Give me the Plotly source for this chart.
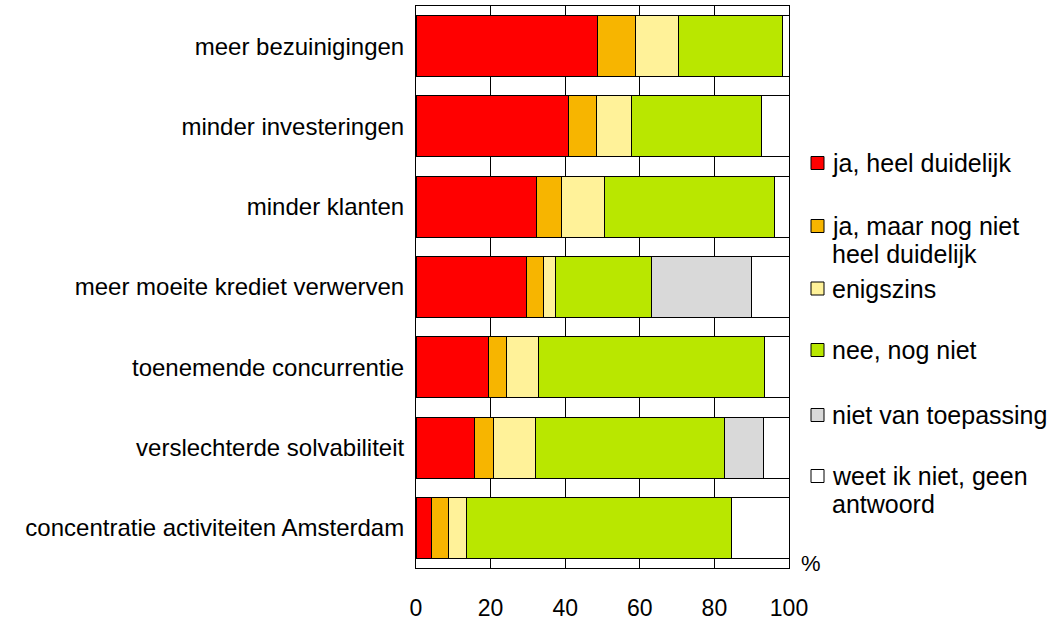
import plotly.graph_objects as go

categories = [
    "meer bezuinigingen",
    "minder investeringen",
    "minder klanten",
    "meer moeite krediet verwerven",
    "toenemende concurrentie",
    "verslechterde solvabiliteit",
    "concentratie activiteiten Amsterdam",
]

ja_heel_duidelijk = [48.6, 40.8, 32.2, 29.7, 19.5, 15.7, 4.1]
ja_maar_nog_niet = [10.2, 7.5, 6.9, 4.4, 4.7, 5.1, 4.7]
enigszins = [11.6, 9.4, 11.5, 3.4, 8.6, 11.2, 4.8]
nee_nog_niet = [27.8, 34.9, 45.4, 25.7, 60.7, 50.8, 71.0]
niet_van_toepassing = [0.0, 0.0, 0.0, 26.8, 0.0, 10.4, 0.0]
weet_ik_niet = [1.8, 7.4, 4.0, 10.0, 6.5, 6.8, 15.4]

series_names = [
    "ja, heel duidelijk",
    "ja, maar nog niet heel duidelijk",
    "enigszins",
    "nee, nog niet",
    "niet van toepassing",
    "weet ik niet, geen antwoord",
]
legend_lines = [
    ["ja, heel duidelijk"],
    ["ja, maar nog niet", "heel duidelijk"],
    ["enigszins"],
    ["nee, nog niet"],
    ["niet van toepassing"],
    ["weet ik niet, geen", "antwoord"],
]
series_values = [ja_heel_duidelijk, ja_maar_nog_niet, enigszins,
                 nee_nog_niet, niet_van_toepassing, weet_ik_niet]
colors = ["#FF0000", "#F7B500", "#FFF299", "#B9E700", "#D9D9D9", "#FFFFFF"]

x_ticks = [0, 20, 40, 60, 80, 100]

FONT = "Liberation Sans, Arial, sans-serif"

fig = go.Figure()
for name, vals, col in zip(series_names, series_values, colors):
    fig.add_trace(go.Bar(
        y=categories, x=vals, name=name, orientation="h",
        marker=dict(color=col, line=dict(color="#000000", width=1)),
        showlegend=False,
    ))

W, H = 1064, 620
L, R, T, B = 416, 275, 6, 52
pw, ph = W - L - R, H - T - B


def px_x(p):
    return (p - L) / pw


def px_y(p):
    return 1 - (p - T) / ph


# manual legend (Excel-style fixed slots)
legend_y = [163, 226, 288.5, 350, 415, 476]
line_gap = 27.5
shapes = []
annotations = []
for i, (lines, col) in enumerate(zip(legend_lines, colors)):
    yc = legend_y[i]
    shapes.append(dict(
        type="rect", xref="paper", yref="paper",
        x0=px_x(811), x1=px_x(824), y0=px_y(yc - 6.5), y1=px_y(yc + 6.5),
        fillcolor=col, line=dict(color="#000000", width=1),
    ))
    for j, txt in enumerate(lines):
        annotations.append(dict(
            xref="paper", yref="paper", x=px_x(830), y=px_y(yc + j * line_gap),
            xanchor="left", yanchor="middle", text=txt, showarrow=False,
            font=dict(family=FONT, size=25, color="#000000"),
        ))

annotations.append(dict(
    xref="paper", yref="paper", x=px_x(799), y=px_y(563),
    xanchor="left", yanchor="middle", text="%", showarrow=False,
    font=dict(family=FONT, size=22, color="#000000"),
))

fig.update_layout(
    barmode="stack",
    bargap=0.24,
    width=W, height=H,
    margin=dict(l=L, r=R, t=T, b=B, pad=0),
    paper_bgcolor="#FFFFFF",
    plot_bgcolor="#FFFFFF",
    font=dict(family=FONT, color="#000000"),
    shapes=shapes,
    annotations=annotations,
    xaxis=dict(
        range=[0, 100], tickvals=x_ticks, ticktext=[str(v) for v in x_ticks],
        showgrid=True, gridcolor="#000000", gridwidth=1,
        showline=True, linecolor="#000000", linewidth=1, mirror=True,
        ticks="", zeroline=False, ticklabelstandoff=19, automargin=False,
        tickfont=dict(family=FONT, size=23, color="#000000"),
    ),
    yaxis=dict(
        autorange="reversed", showgrid=False,
        showline=True, linecolor="#000000", linewidth=1, mirror=True,
        ticks="", ticklabelstandoff=6, automargin=False,
        tickfont=dict(family=FONT, size=24, color="#000000"),
    ),
)

fig.write_html("out.html", config={"displayModeBar": False},
               post_script="document.body.style.margin='0';")
